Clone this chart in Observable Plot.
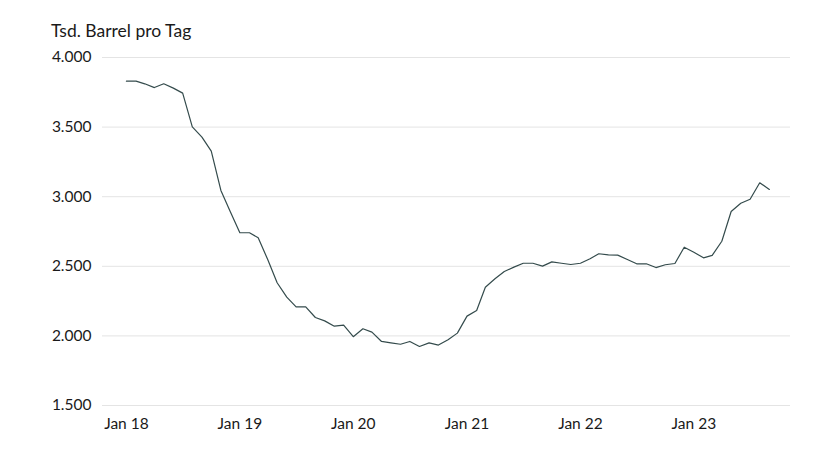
<!DOCTYPE html>
<html>
<head>
<meta charset="utf-8">
<script src="https://cdn.jsdelivr.net/npm/d3@7"></script>
<script src="https://cdn.jsdelivr.net/npm/@observablehq/plot@0.6"></script>
<style>
  html, body { margin: 0; padding: 0; background: #fff; }
  #wrap { width: 840px; font-family: Lato, "Open Sans", sans-serif; color: #1a1a1a; }
  #title { height: 40px; box-sizing: border-box; padding: 21px 0 0 51px; font-size: 17.5px; line-height: 20px; }
  svg { display: block; }
</style>
</head>
<body>
<div id="wrap">
  <div id="title">Tsd. Barrel pro Tag</div>
  <div id="chart"></div>
</div>
<script>
const startYear = 2018;
const values = [
  3830, 3830, 3811, 3784, 3811, 3780, 3744, 3502, 3428, 3327, 3045, 2894,
  2741, 2741, 2705, 2547, 2382, 2278, 2209, 2209, 2132, 2108, 2070, 2077,
  1994, 2051, 2027, 1960, 1950, 1940, 1960, 1924, 1950, 1934, 1972, 2020,
  2142, 2182, 2350, 2410, 2463, 2494, 2522, 2522, 2501, 2532, 2522, 2513,
  2522, 2554, 2590, 2582, 2580, 2549, 2518, 2518, 2491, 2511, 2520, 2637,
  2601, 2561, 2578, 2680, 2894, 2953, 2982, 3100, 3052
];
const yTicks = [1500, 2000, 2500, 3000, 3500, 4000];
const xTickYears = [2018, 2019, 2020, 2021, 2022, 2023];

const data = values.map((v, i) => ({date: new Date(Date.UTC(startYear, i, 1)), value: v}));
const fmt = d3.formatLocale({decimal: ",", thousands: ".", grouping: [3], currency: ["", "€"]}).format(",");

const chart = Plot.plot({
  width: 840,
  height: 411,
  marginTop: 17,
  marginBottom: 46,
  marginLeft: 102,
  marginRight: 50,
  style: {fontFamily: "Lato, 'Open Sans', sans-serif", fontSize: "15.5px", color: "#1a1a1a", background: "#fff"},
  x: {
    type: "utc",
    domain: [new Date(Date.UTC(2017, 9, 16)), new Date(Date.UTC(2023, 10, 8))],
    ticks: xTickYears.map(y => new Date(Date.UTC(y, 0, 1))),
    tickFormat: d => "Jan " + String(d.getUTCFullYear() % 100).padStart(2, "0"),
    tickSize: 0,
    tickPadding: 12,
    label: null
  },
  y: {
    domain: [1500, 4000],
    ticks: yTicks,
    tickFormat: fmt,
    tickSize: 0,
    tickPadding: 11,
    label: null
  },
  marks: [
    Plot.gridY(yTicks, {stroke: "#e4e4e4", strokeOpacity: 1, strokeWidth: 1}),
    Plot.lineY(data, {x: "date", y: "value", stroke: "#344b4c", strokeWidth: 1.2})
  ]
});
document.getElementById("chart").appendChild(chart);
</script>
</body>
</html>
